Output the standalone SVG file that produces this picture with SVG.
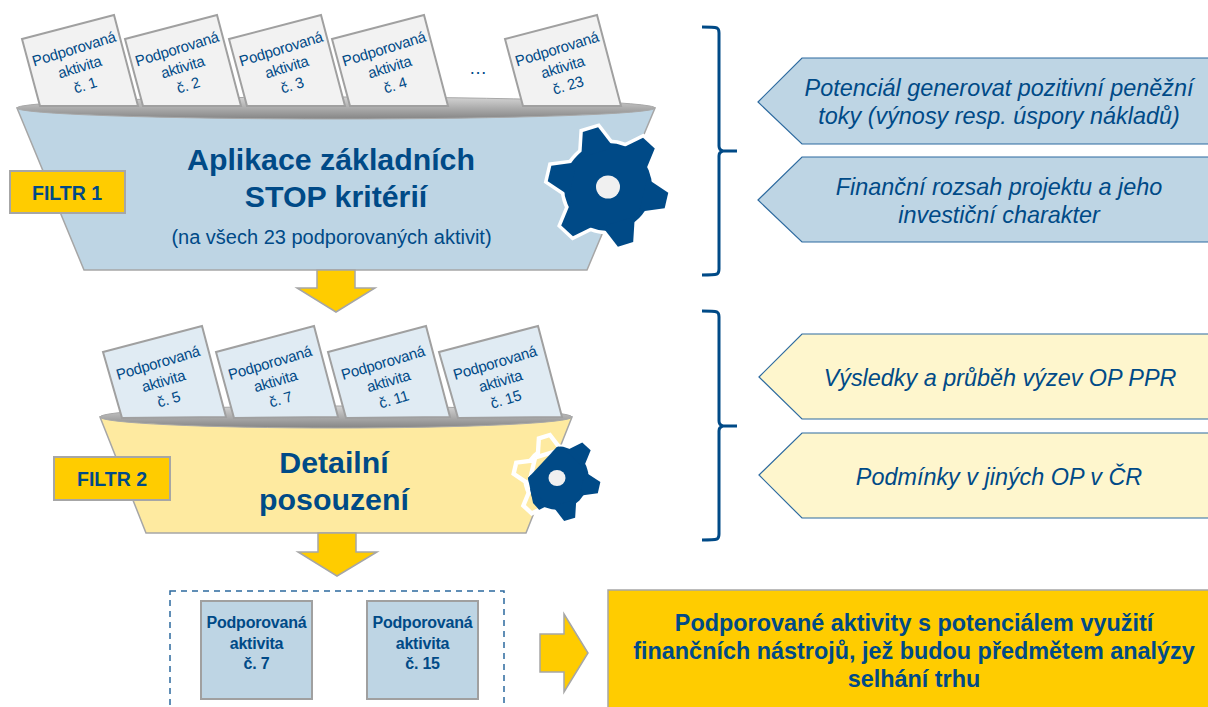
<svg xmlns="http://www.w3.org/2000/svg" xmlns:xlink="http://www.w3.org/1999/xlink" width="1208" height="707" viewBox="0 0 1208 707">
<style>
text{font-family:"Liberation Sans",Arial,sans-serif;fill:#004a87;text-anchor:middle}
.card{stroke:#a0a0a0;stroke-width:2;stroke-linejoin:miter}
.c1{fill:#f2f2f2}.c2{fill:#e0ebf3}
.ct{font-size:15px;letter-spacing:-.25px}
.funnel{stroke:#a6a6a6;stroke-width:1.5}
.rim{fill:url(#rimg);stroke:#a8a8a8;stroke-width:1}
.h{font-size:30.300px;font-weight:bold}
.tag{fill:#ffcc00;stroke:#a6a6a6;stroke-width:2}
.tagt{font-size:19.500px;font-weight:bold}
.arrow{fill:#ffcc00;stroke:#a6a6a6;stroke-width:1.5}
.brace{fill:none;stroke:#004a87;stroke-width:3}
.pb{fill:#bed5e4;stroke:#2d6a9f;stroke-width:1.2}
.py{fill:#fef6cd;stroke:#2d6a9f;stroke-width:1.2}
.pt{font-size:23.400px;font-style:italic}
.sq{fill:#bed5e4;stroke:#a0a0a0;stroke-width:2}
.sqt{font-size:16px;font-weight:bold;letter-spacing:-.2px}
.big{font-size:23.400px;font-weight:bold}
</style>
<defs>
<linearGradient id="rimg" x1="0" y1="0" x2="0" y2="1"><stop offset="0" stop-color="#d4d4d4"/><stop offset="1" stop-color="#858585"/></linearGradient>
<g id="gearshape">
<circle r="44"/>
<polygon points="36,-17 60,-8 60,8 36,17" transform="rotate(13)"/>
<polygon points="36,-17 60,-8 60,8 36,17" transform="rotate(73)"/>
<polygon points="36,-17 60,-8 60,8 36,17" transform="rotate(133)"/>
<polygon points="36,-17 60,-8 60,8 36,17" transform="rotate(193)"/>
<polygon points="36,-17 60,-8 60,8 36,17" transform="rotate(253)"/>
<polygon points="36,-17 60,-8 60,8 36,17" transform="rotate(313)"/>
</g>
<clipPath id="gclip"><polygon points="557,447 528,478 533,503 560,533 607,533 607,433"/></clipPath>
</defs>

<g id="filter1">
<polygon class="funnel" points="17,108 655,108 587,270 84,270" fill="#bed5e4"/>
<ellipse class="rim" cx="336" cy="108" rx="319" ry="11"/>
<text class="h" x="331" y="170">Aplikace základních</text>
<text class="h" x="336" y="207">STOP kritérií</text>
<text x="331.500" y="244" font-size="20">(na všech 23 podporovaných aktivit)</text>
</g>
<g id="gear1" transform="translate(608,187)">
<use xlink:href="#gearshape" href="#gearshape" fill="#fff" stroke="#fff" stroke-width="7"/>
<use xlink:href="#gearshape" href="#gearshape" fill="#004a87"/>
<ellipse rx="12" ry="11.500" fill="#f0f0f0"/>
</g>
<g id="tag1"><rect class="tag" x="10" y="171" width="115" height="42"/><text class="tagt" x="67" y="200">FILTR 1</text></g>

<g id="card1"><polygon class="card c1" points="22,39 114,15 138,106 40,106"/><g transform="translate(74,49) rotate(-17)"><text class="ct" y="5">Podporovaná</text><text class="ct" y="24">aktivita</text><text class="ct" y="43">č. 1</text></g></g>
<g id="card2"><polygon class="card c1" points="125,39 217,15 241,106 143,106"/><g transform="translate(177,49) rotate(-17)"><text class="ct" y="5">Podporovaná</text><text class="ct" y="24">aktivita</text><text class="ct" y="43">č. 2</text></g></g>
<g id="card3"><polygon class="card c1" points="229,39 321,15 345,106 247,106"/><g transform="translate(281,49) rotate(-17)"><text class="ct" y="5">Podporovaná</text><text class="ct" y="24">aktivita</text><text class="ct" y="43">č. 3</text></g></g>
<g id="card4"><polygon class="card c1" points="332,39 424,15 448,106 350,106"/><g transform="translate(384,49) rotate(-17)"><text class="ct" y="5">Podporovaná</text><text class="ct" y="24">aktivita</text><text class="ct" y="43">č. 4</text></g></g>
<text x="478" y="74" font-size="18">…</text>
<g id="card23"><polygon class="card c1" points="505,39 597,15 621,106 523,106"/><g transform="translate(557,49) rotate(-17)"><text class="ct" y="5">Podporovaná</text><text class="ct" y="24">aktivita</text><text class="ct" y="43">č. 23</text></g></g>

<g id="filter2">
<polygon class="funnel" points="100,417 572,417 526,533 146,533" fill="#feeaa0"/>
<ellipse class="rim" cx="336" cy="417" rx="236" ry="11"/>
<text class="h" x="334" y="473">Detailní</text>
<text class="h" x="334" y="510">posouzení</text>
</g>
<g id="gear2">
<g transform="translate(557,478) scale(.72)"><use xlink:href="#gearshape" href="#gearshape" fill="#feeaa0" stroke="#fff" stroke-width="6"/></g>
<g clip-path="url(#gclip)"><g transform="translate(557,478) scale(.72)"><use xlink:href="#gearshape" href="#gearshape" fill="#004a87"/></g></g>
<ellipse cx="557" cy="478" rx="8.500" ry="8" fill="#f0f0f0"/>
</g>
<g id="tag2"><rect class="tag" x="54" y="457" width="116" height="43"/><text class="tagt" x="112" y="486">FILTR 2</text></g>

<g id="card5"><polygon class="card c2" points="103,352 202,326 226,417 122,418"/><g transform="translate(158,363) rotate(-16.500)"><text class="ct" y="5">Podporovaná</text><text class="ct" y="24">aktivita</text><text class="ct" y="43">č. 5</text></g></g>
<g id="card7"><polygon class="card c2" points="216,352 314,326 338,417 234,418"/><g transform="translate(270,363) rotate(-16.500)"><text class="ct" y="5">Podporovaná</text><text class="ct" y="24">aktivita</text><text class="ct" y="43">č. 7</text></g></g>
<g id="card11"><polygon class="card c2" points="328,352 426,326 450,417 346,418"/><g transform="translate(383,363) rotate(-16.500)"><text class="ct" y="5">Podporovaná</text><text class="ct" y="24">aktivita</text><text class="ct" y="43">č. 11</text></g></g>
<g id="card15"><polygon class="card c2" points="439,352 538,326 562,417 458,418"/><g transform="translate(495,363) rotate(-16.500)"><text class="ct" y="5">Podporovaná</text><text class="ct" y="24">aktivita</text><text class="ct" y="43">č. 15</text></g></g>

<g id="connectors">
<polygon class="arrow" points="317,270 355,270 355,288 375,288 336,312 297,288 317,288"/>
<polygon class="arrow" points="318,533 356,533 356,552 377,552 337,576 298,552 318,552"/>
<polygon class="arrow" points="540,634 564,634 564,614 588,653 564,692 564,672 540,672"/>
<path class="brace" d="M702,27 Q714,27 717,28 Q719,29 719,33 V146 Q719,150 723,151 H737 M737,151 H723 Q719,152 719,156 V269 Q719,273 717,274 Q714,275 702,275"/>
<path class="brace" d="M702,311 Q714,311 717,312 Q719,313 719,317 V421 Q719,425 723,426 H737 M737,426 H723 Q719,427 719,431 V534 Q719,538 717,539 Q714,540 702,540"/>
</g>

<g id="crit1"><polygon class="pb" points="758,102 802,58 1209,58 1209,144 802,144"/><text class="pt" x="999" y="96">Potenciál generovat pozitivní peněžní</text><text class="pt" x="999" y="124">toky (výnosy resp. úspory nákladů)</text></g>
<g id="crit2"><polygon class="pb" points="758,200 802,157 1209,157 1209,242 802,242"/><text class="pt" x="999" y="195">Finanční rozsah projektu a jeho</text><text class="pt" x="999" y="223">investiční charakter</text></g>
<g id="crit3"><polygon class="py" points="759,377 802,334 1209,334 1209,419 802,419"/><text class="pt" x="1000" y="386">Výsledky a průběh výzev OP PPR</text></g>
<g id="crit4"><polygon class="py" points="759,475 802,433 1209,433 1209,518 802,518"/><text class="pt" x="999" y="485">Podmínky v jiných OP v ČR</text></g>

<g id="result">
<rect x="170" y="591" width="334" height="130" fill="none" stroke="#2d6a9f" stroke-width="1.500" stroke-dasharray="6 5"/>
<g id="res7"><rect class="sq" x="201" y="601" width="111" height="98"/><text class="sqt" x="256.500" y="628">Podporovaná</text><text class="sqt" x="256.500" y="649">aktivita</text><text class="sqt" x="256.500" y="669">č. 7</text></g>
<g id="res15"><rect class="sq" x="367" y="601" width="111" height="98"/><text class="sqt" x="422.500" y="628">Podporovaná</text><text class="sqt" x="422.500" y="649">aktivita</text><text class="sqt" x="422.500" y="669">č. 15</text></g>
</g>
<g id="summary"><rect x="608" y="590" width="620" height="140" fill="#ffcc00" stroke="#a6a6a6" stroke-width="1.500"/><text class="big" x="914" y="631">Podporované aktivity s potenciálem využití</text><text class="big" x="914" y="659">finančních nástrojů, jež budou předmětem analýzy</text><text class="big" x="914" y="687">selhání trhu</text></g>
</svg>
